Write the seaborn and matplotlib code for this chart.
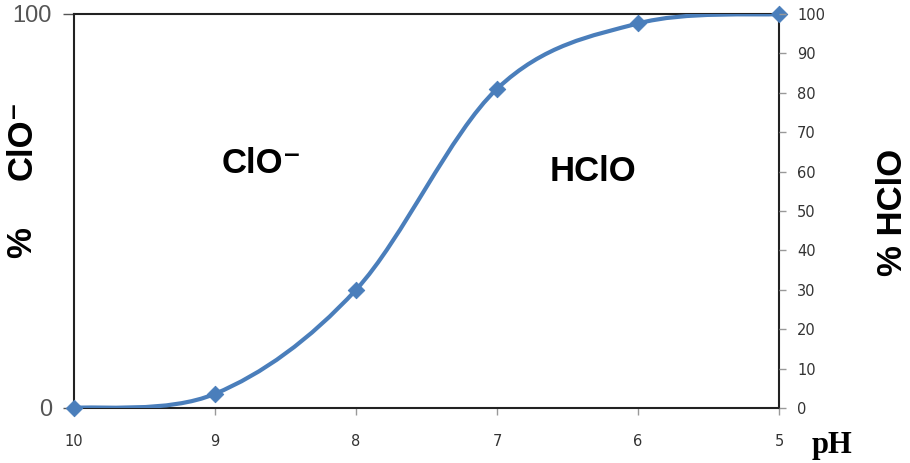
import numpy as np
import pandas as pd
import matplotlib
matplotlib.use("Agg")
import matplotlib.pyplot as plt
import seaborn as sns
from matplotlib.path import Path
from matplotlib.patches import PathPatch

# data
ph = [10, 9, 8, 7, 6, 5]
hclo_pct = [0, 3.6, 30, 81, 97.6, 100]
right_ticks = list(range(0, 101, 10))
left_ticks = [0, 100]

df = pd.DataFrame({'pH': ph, 'HClO': hclo_pct})

line_col = '#4A7EBB'

sns.set_style("white")
plt.rcParams['font.family'] = ['Liberation Sans', 'DejaVu Sans']
plt.rcParams['text.color'] = 'black'

fig = plt.figure(figsize=(9.1, 4.63), dpi=100)
ax = fig.add_axes([74/910, 55/463, 705/910, 394/463])


def smooth_path(x, y):
    # Excel-like smoothed line: cubic Bezier segments through the points
    pts = np.column_stack([x, y]).astype(float)
    n = len(pts)
    verts = [pts[0]]
    codes = [Path.MOVETO]
    for i in range(n - 1):
        p0 = pts[max(i - 1, 0)]
        p1 = pts[i]
        p2 = pts[i + 1]
        p3 = pts[min(i + 2, n - 1)]
        c1 = p1 + (p2 - p0) / 6.0
        c2 = p2 - (p3 - p1) / 6.0
        verts += [c1, c2, p2]
        codes += [Path.CURVE4] * 3
    return Path(verts, codes)


ax.add_patch(PathPatch(smooth_path(df['pH'], df['HClO']), facecolor='none',
                       edgecolor=line_col, lw=3, capstyle='round', zorder=3))
sns.scatterplot(data=df, x='pH', y='HClO', marker='D', s=70, color=line_col,
                edgecolor=line_col, ax=ax, zorder=4, clip_on=False)

ax.set_xlim(10, 5)
ax.set_ylim(0, 100)
ax.set_xticks(ph)
ax.set_xticklabels([str(v) for v in ph], family='DejaVu Sans', fontsize=10.5, color='#333333')
ax.set_yticks(left_ticks)
ax.set_yticklabels([str(v) for v in left_ticks], fontsize=17, color='#555555')
ax.tick_params(axis='x', direction='out', length=5, width=1, color='#999999', pad=14, bottom=True)
ax.tick_params(axis='y', direction='out', length=8, width=1, color='#555555', pad=8, left=True)
ax.set_xlabel('')
ax.set_ylabel('')
for s in ax.spines.values():
    s.set_color('#222222')
    s.set_linewidth(1.5)

ax2 = ax.twinx()
ax2.set_ylim(0, 100)
ax2.set_yticks(right_ticks)
ax2.set_yticklabels([str(v) for v in right_ticks], family='DejaVu Sans', fontsize=10.5, color='#333333')
ax2.tick_params(axis='y', direction='out', length=5, width=1, color='#999999', pad=8, right=True)
for s in ax2.spines.values():
    s.set_visible(False)

ax.text(8.67, 62, 'ClO\u207b', fontsize=25, fontweight='bold', ha='center', va='center')
ax.text(6.32, 60, 'HClO', fontsize=25, fontweight='bold', ha='center', va='center')

# left axis title: "%" set apart from "ClO-"
fig.text(22/910, 1 - 140/463, 'ClO\u207b', rotation=90, fontsize=25, fontweight='bold',
         ha='center', va='center')
fig.text(22/910, 1 - 243/463, '%', rotation=90, fontsize=25, fontweight='bold',
         ha='center', va='center')
fig.text(893/910, 1 - 212/463, '% HClO', rotation=90, fontsize=25, fontweight='bold',
         ha='center', va='center')
fig.text(832/910, 1 - 453/463, 'pH', family='Liberation Serif', fontsize=22, fontweight='bold',
         ha='center', va='baseline')

plt.savefig('out.png', dpi=100)
